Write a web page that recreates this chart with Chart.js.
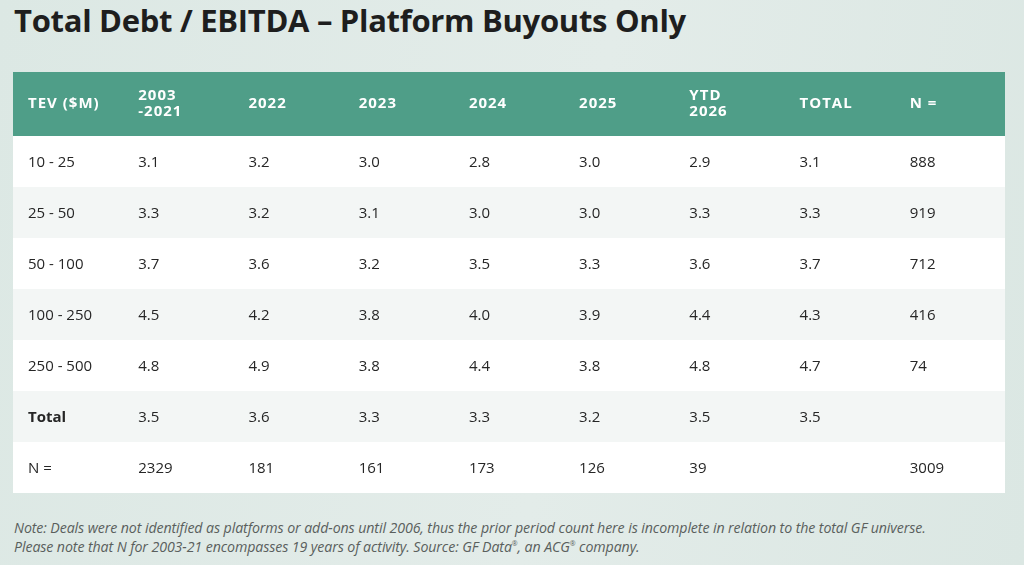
<!DOCTYPE html>
<html lang="en">
<head>
    <meta charset="UTF-8">
    <title>Total Debt / EBITDA – Platform Buyouts Only</title>
    <script src="https://cdn.jsdelivr.net/npm/chart.js"></script>
    <style>
        body, html {
            margin: 0;
            padding: 0;
            width: 1024px;
            height: 565px;
            overflow: hidden;
        }
        body {
            background: linear-gradient(100deg, #dce8e4 0%, #e3ece9 55%, #dbe7e3 100%);
            font-family: "Open Sans", sans-serif;
            position: relative;
        }
        h1 {
            position: absolute;
            left: 14px;
            top: -1px;
            margin: 0;
            font-size: 31px;
            font-weight: 700;
            color: #1e1e1e;
            letter-spacing: -0.3px;
        }
        #tableChart {
            position: absolute;
            left: 13px;
            top: 72px;
        }
        .note {
            position: absolute;
            left: 14px;
            top: 518px;
            margin: 0;
            font-size: 14.2px;
            font-style: italic;
            line-height: 19px;
            color: #5a5f5d;
            letter-spacing: -0.1px;
        }
        .note sup { font-size: 7px; vertical-align: 6px; line-height: 0; }
    </style>
</head>
<body>

<h1>Total Debt / EBITDA – Platform Buyouts Only</h1>
<canvas id="tableChart" width="992" height="421"></canvas>
<p class="note">Note: Deals were not identified as platforms or add-ons until 2006, thus the prior period count here is incomplete in relation to the total GF universe.<br>
Please note that N for 2003-21 encompasses 19 years of activity. Source: GF Data<sup>®</sup>, an ACG<sup>®</sup> company.</p>

<script>
    // En-têtes de colonnes
    const columns = ['TEV ($M)', '2003\n-2021', '2022', '2023', '2024', '2025', 'YTD\n2026', 'TOTAL', 'N ='];
    // Tranches de TEV
    const tevRanges = ['10 - 25', '25 - 50', '50 - 100', '100 - 250', '250 - 500'];

    // Multiples Total Debt / EBITDA par période
    const y2003_2021 = [3.1, 3.3, 3.7, 4.5, 4.8];
    const y2022 = [3.2, 3.2, 3.6, 4.2, 4.9];
    const y2023 = [3.0, 3.1, 3.2, 3.8, 3.8];
    const y2024 = [2.8, 3.0, 3.5, 4.0, 4.4];
    const y2025 = [3.0, 3.0, 3.3, 3.9, 3.8];
    const ytd2026 = [2.9, 3.3, 3.6, 4.4, 4.8];
    const totalByRange = [3.1, 3.3, 3.7, 4.3, 4.7];
    const nByRange = [888, 919, 712, 416, 74];

    // Ligne "Total" et ligne "N ="
    const totalRow = [3.5, 3.6, 3.3, 3.3, 3.2, 3.5, 3.5];
    const nRow = [2329, 181, 161, 173, 126, 39, null, 3009];

    const headerUnits = 64 / 51; // hauteur de l'en-tête en lignes

    // Construire la grille de cellules
    const periods = [y2003_2021, y2022, y2023, y2024, y2025, ytd2026, totalByRange];
    const rows = tevRanges.map((label, r) => [label, ...periods.map(p => p[r].toFixed(1)), String(nByRange[r])]);
    rows.push(['Total', ...totalRow.map(v => v.toFixed(1)), '']);
    rows.push(['N =', ...nRow.map(v => v === null ? '' : String(v))]);

    const points = [];
    columns.forEach((c, i) => points.push({ x: i, y: headerUnits / 2, text: c, header: true }));
    rows.forEach((row, r) => {
        row.forEach((t, i) => points.push({ x: i, y: headerUnits + r + 0.5, text: t, bold: r === 5 && i === 0 }));
    });

    const tablePlugin = {
        id: 'tablePlugin',
        beforeDatasetsDraw(chart) {
            const { ctx, scales: { x, y } } = chart;
            const left = x.getPixelForValue(0), right = x.getPixelForValue(columns.length);
            ctx.save();
            ctx.fillStyle = '#4f9e88';
            ctx.fillRect(left, y.getPixelForValue(0), right - left, y.getPixelForValue(headerUnits) - y.getPixelForValue(0));
            rows.forEach((row, r) => {
                const top = y.getPixelForValue(headerUnits + r);
                const bottom = y.getPixelForValue(headerUnits + r + 1);
                ctx.fillStyle = r % 2 === 0 ? '#ffffff' : '#f3f6f5';
                ctx.fillRect(left, top, right - left, bottom - top);
            });
            ctx.restore();
        },
        afterDatasetsDraw(chart) {
            const { ctx } = chart;
            const meta = chart.getDatasetMeta(0);
            ctx.save();
            ctx.textBaseline = 'middle';
            ctx.textAlign = 'left';
            meta.data.forEach((el, i) => {
                const p = points[i];
                const px = el.x + 15;
                if (p.header) {
                    ctx.fillStyle = '#ffffff';
                    ctx.font = 'bold 15px "Open Sans"';
                    ctx.letterSpacing = '1px';
                    const lines = p.text.split('\n');
                    lines.forEach((l, k) => {
                        ctx.fillText(l, px, el.y + (k - (lines.length - 1) / 2) * 16);
                    });
                } else {
                    ctx.fillStyle = '#262626';
                    ctx.letterSpacing = '0px';
                    ctx.font = (p.bold ? 'bold ' : '') + '15px "Open Sans"';
                    ctx.fillText(p.text, px, el.y + 1);
                }
            });
            ctx.restore();
        }
    };

    new Chart(document.getElementById('tableChart'), {
        type: 'scatter',
        data: {
            datasets: [{
                data: points,
                pointRadius: 0,
                pointHoverRadius: 0
            }]
        },
        options: {
            responsive: false,
            animation: false,
            layout: { padding: 0 },
            plugins: {
                legend: { display: false },
                tooltip: { enabled: false }
            },
            scales: {
                x: { type: 'linear', min: 0, max: columns.length, display: false },
                y: { type: 'linear', min: 0, max: headerUnits + rows.length, reverse: true, display: false }
            }
        },
        plugins: [tablePlugin]
    });
</script>

</body>
</html>
